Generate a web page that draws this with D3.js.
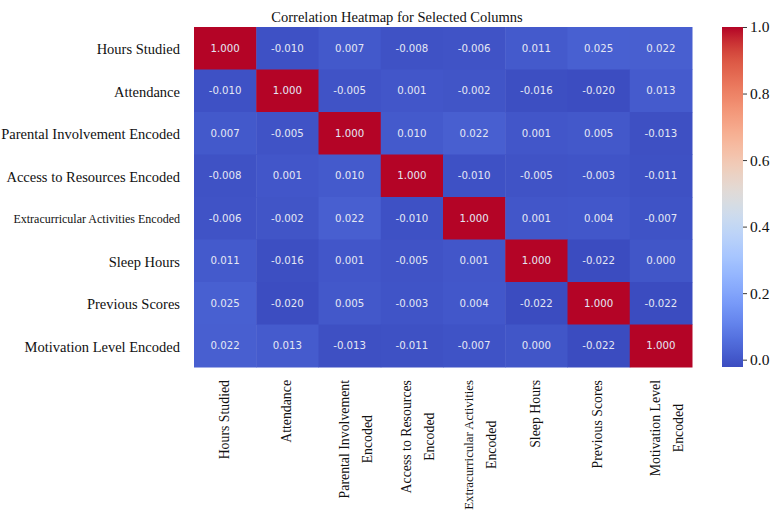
<!DOCTYPE html>
<html>
<head>
<meta charset="utf-8">
<script src="https://cdn.jsdelivr.net/npm/d3@7"></script>
<style>
  html, body { margin: 0; padding: 0; background: #ffffff; }
  svg { display: block; }
</style>
</head>
<body>
<svg id="chart" width="772" height="518"></svg>
<script>
// ---- data ----
const rowLabels = [
  "Hours Studied",
  "Attendance",
  "Parental Involvement Encoded",
  "Access to Resources Encoded",
  "Extracurricular Activities Encoded",
  "Sleep Hours",
  "Previous Scores",
  "Motivation Level Encoded"
];

const colLabels = [
  ["Hours Studied"],
  ["Attendance"],
  ["Parental Involvement", "Encoded"],
  ["Access to Resources", "Encoded"],
  ["Extracurricular Activities", "Encoded"],
  ["Sleep Hours"],
  ["Previous Scores"],
  ["Motivation Level", "Encoded"]
];

const corr = [
  [ 1.000, -0.010,  0.007, -0.008, -0.006,  0.011,  0.025,  0.022],
  [-0.010,  1.000, -0.005,  0.001, -0.002, -0.016, -0.020,  0.013],
  [ 0.007, -0.005,  1.000,  0.010,  0.022,  0.001,  0.005, -0.013],
  [-0.008,  0.001,  0.010,  1.000, -0.010, -0.005, -0.003, -0.011],
  [-0.006, -0.002,  0.022, -0.010,  1.000,  0.001,  0.004, -0.007],
  [ 0.011, -0.016,  0.001, -0.005,  0.001,  1.000, -0.022,  0.000],
  [ 0.025, -0.020,  0.005, -0.003,  0.004, -0.022,  1.000, -0.022],
  [ 0.022,  0.013, -0.013, -0.011, -0.007,  0.000, -0.022,  1.000]
];

const colorbarTicks = [0.0, 0.2, 0.4, 0.6, 0.8, 1.0];
const chartTitle = "Correlation Heatmap for Selected Columns";

// ---- coolwarm colour map (diverging, blue -> grey -> red) ----
const coolwarmStops = [
  [0.2298, 0.2987, 0.7537],
  [0.3038, 0.4063, 0.8470],
  [0.3841, 0.5095, 0.9243],
  [0.4689, 0.6024, 0.9756],
  [0.5527, 0.6901, 0.9955],
  [0.6376, 0.7617, 0.9985],
  [0.7157, 0.8189, 0.9838],
  [0.7912, 0.8590, 0.9400],
  [0.8654, 0.8654, 0.8654],
  [0.9220, 0.8270, 0.7710],
  [0.9602, 0.7655, 0.6725],
  [0.9686, 0.6877, 0.5725],
  [0.9577, 0.5979, 0.4769],
  [0.9284, 0.4970, 0.3852],
  [0.8850, 0.3936, 0.3017],
  [0.8250, 0.2700, 0.2230],
  [0.7057, 0.0156, 0.1502]
].map(c => d3.rgb(c[0] * 255, c[1] * 255, c[2] * 255).formatHex());
const coolwarm = d3.interpolateRgbBasis(coolwarmStops);

const flat = corr.flat();
const vmin = d3.min(flat), vmax = d3.max(flat);
const color = d3.scaleSequential(coolwarm).domain([vmin, vmax]);

// ---- layout ----
const svg = d3.select("#chart");
const serif = "'Liberation Serif', 'Times New Roman', Times, serif";
const plot = { left: 194, top: 27, width: 498, height: 340 };

const x = d3.scaleBand().domain(d3.range(colLabels.length))
  .range([plot.left, plot.left + plot.width]).paddingInner(0).paddingOuter(0);
const y = d3.scaleBand().domain(d3.range(rowLabels.length))
  .range([plot.top, plot.top + plot.height]).paddingInner(0).paddingOuter(0);

// cells
const cells = [];
corr.forEach((row, i) => row.forEach((v, j) => cells.push({ i, j, v })));

svg.append("g").selectAll("rect")
  .data(cells)
  .join("rect")
  .attr("x", d => x(d.j))
  .attr("y", d => y(d.i))
  .attr("width", x.bandwidth() + 0.5)
  .attr("height", y.bandwidth() + 0.5)
  .attr("fill", d => color(d.v));

// annotations
svg.append("g").selectAll("text")
  .data(cells)
  .join("text")
  .attr("x", d => x(d.j) + x.bandwidth() / 2)
  .attr("y", d => y(d.i) + y.bandwidth() / 2)
  .attr("text-anchor", "middle")
  .attr("dominant-baseline", "central")
  .attr("font-family", "'DejaVu Sans', sans-serif")
  .attr("font-size", 10.2)
  .attr("fill", "#e4e7f4")
  .text(d => d.v.toFixed(3));

// row labels
svg.append("g").selectAll("text")
  .data(rowLabels)
  .join("text")
  .attr("x", 180)
  .attr("y", (d, i) => y(i) + y.bandwidth() / 2 + 1)
  .attr("text-anchor", "end")
  .attr("dominant-baseline", "central")
  .attr("font-family", serif)
  .attr("font-size", d => d.length > 30 ? 12 : 14.5)
  .attr("fill", "#111")
  .text(d => d);

// column labels (rotated, multi-line centred)
const colTop = 380;
const lineGap = 23;
const colG = svg.append("g");
colLabels.forEach((lines, j) => {
  const cx = x(j) + x.bandwidth() / 2 + (lines.length > 1 ? 6 : -1);
  const g = colG.append("g");
  const texts = g.selectAll("text")
    .data(lines)
    .join("text")
    .attr("x", 0)
    .attr("y", (d, k) => (k - (lines.length - 1) / 2) * lineGap)
    .attr("text-anchor", "middle")
    .attr("dominant-baseline", "central")
    .attr("font-family", serif)
    .attr("font-size", d => d.length > 22 ? 12.8 : 13.8)
    .attr("fill", "#111")
    .text(d => d);
  let maxW = 0;
  texts.each(function () { maxW = Math.max(maxW, this.getComputedTextLength()); });
  g.attr("transform", `translate(${cx},${colTop + maxW / 2}) rotate(-90)`);
});

// title
svg.append("text")
  .attr("x", 397)
  .attr("y", 22)
  .attr("text-anchor", "middle")
  .attr("font-family", serif)
  .attr("font-size", 14.5)
  .attr("fill", "#111")
  .text(chartTitle);

// ---- colorbar ----
const cb = { left: 722, top: 27, width: 21, height: 340 };
const cbScale = d3.scaleLinear().domain([vmin, vmax]).range([cb.top + cb.height, cb.top]);

const defs = svg.append("defs");
const grad = defs.append("linearGradient")
  .attr("id", "cbgrad")
  .attr("x1", "0").attr("y1", "1").attr("x2", "0").attr("y2", "0");
grad.selectAll("stop")
  .data(d3.range(0, 1.0001, 1 / 64))
  .join("stop")
  .attr("offset", d => d)
  .attr("stop-color", d => coolwarm(d));

svg.append("rect")
  .attr("x", cb.left)
  .attr("y", cb.top)
  .attr("width", cb.width)
  .attr("height", cb.height)
  .attr("fill", "url(#cbgrad)");

const cbAxis = d3.axisRight(cbScale)
  .tickValues(colorbarTicks)
  .tickFormat(d3.format(".1f"))
  .tickSize(4)
  .tickPadding(3);

const cbG = svg.append("g")
  .attr("transform", `translate(${cb.left + cb.width},0)`)
  .call(cbAxis);
cbG.select(".domain").remove();
cbG.selectAll(".tick line").attr("stroke", "#222").attr("stroke-width", 0.9);
cbG.selectAll(".tick text")
  .attr("font-family", serif)
  .attr("font-size", 15.5)
  .attr("fill", "#111");
</script>
</body>
</html>
